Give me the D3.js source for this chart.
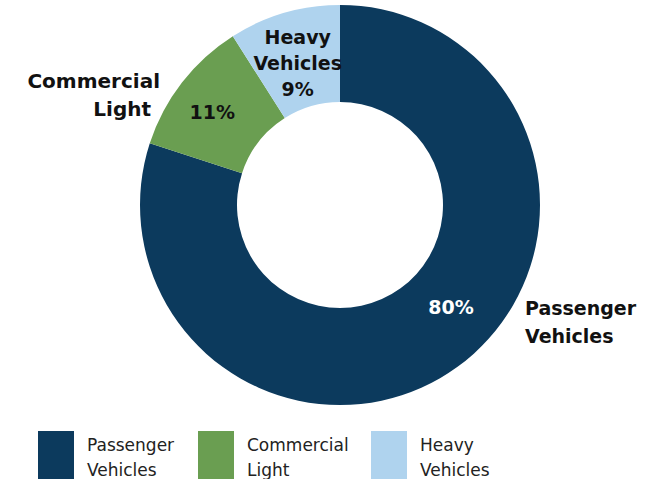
<!DOCTYPE html>
<html>
<head>
<meta charset="utf-8">
<script src="https://cdn.jsdelivr.net/npm/d3@7"></script>
<style>
  body { margin: 0; background: #fff; }
  text { font-family: "DejaVu Sans", sans-serif; }
</style>
</head>
<body>
<svg width="649" height="479"></svg>
<script>
var categories = ['Passenger Vehicles', 'Commercial Light', 'Heavy Vehicles'],
    shares     = [80, 11, 9],
    nameLines  = [['Passenger', 'Vehicles'], ['Commercial', 'Light'], ['Heavy', 'Vehicles']],
    colors     = ['#0c3a5d', '#6a9e51', '#afd3ee'];

var cx     = 340,
    cy     = 205,
    outerR = 200,
    innerR = 103,
    fs     = 19;

var svg = d3.select('svg');
var g = svg.append('g').attr('transform', 'translate(' + cx + ',' + cy + ')');

var pie = d3.pie().sort(null).value(function(d) { return d; });
var arc = d3.arc().innerRadius(innerR).outerRadius(outerR);
var arcs = pie(shares);

g.selectAll('path.slice')
  .data(arcs)
  .enter()
  .append('path')
  .attr('class', 'slice')
  .attr('d', arc)
  .attr('fill', function(d, i) { return colors[i]; });

// percent labels, nudged off the centroid like the original
var pctNudge = [[22, -20], [-8, 0]];
var pctColor = ['#fff', '#111'];

arcs.slice(0, 2).forEach(function(d, i) {
  var c = arc.centroid(d);
  g.append('text')
    .attr('x', c[0] + pctNudge[i][0])
    .attr('y', c[1] + pctNudge[i][1])
    .attr('dy', '0.35em')
    .attr('text-anchor', 'middle')
    .attr('font-size', fs)
    .attr('font-weight', 'bold')
    .attr('fill', pctColor[i])
    .text(shares[i] + '%');
});

// Heavy vehicles: name + value stacked inside the slice
var hv = arc.centroid(arcs[2]);
var hvText = g.append('text')
  .attr('text-anchor', 'middle')
  .attr('font-size', fs)
  .attr('font-weight', 'bold')
  .attr('fill', '#111');
nameLines[2].concat([shares[2] + '%']).forEach(function(s, k) {
  hvText.append('tspan')
    .attr('x', hv[0])
    .attr('y', hv[1] - 22 + k * 26)
    .attr('dy', '0.35em')
    .text(s);
});

// outside names
var outside = [
  { i: 0, x: 185, y: 103, anchor: 'start', shift: [0, 0] },
  { i: 1, x: -180, y: -124, anchor: 'end', shift: [0, -9] }
];
outside.forEach(function(o) {
  var t = g.append('text')
    .attr('text-anchor', o.anchor)
    .attr('font-size', o.i === 1 ? 20 : fs)
    .attr('font-weight', 'bold')
    .attr('fill', '#111');
  nameLines[o.i].forEach(function(s, k) {
    t.append('tspan')
      .attr('x', o.x + o.shift[k])
      .attr('y', o.y + k * 28)
      .attr('dy', '0.35em')
      .text(s);
  });
});

// legend
var legendX = d3.scaleOrdinal().domain(categories).range([38, 198, 371]);
var leg = svg.append('g').attr('transform', 'translate(0,431)');
var item = leg.selectAll('g.item')
  .data(categories)
  .enter()
  .append('g')
  .attr('class', 'item')
  .attr('transform', function(d) { return 'translate(' + legendX(d) + ',0)'; });

item.append('rect')
  .attr('width', 36)
  .attr('height', 48)
  .attr('fill', function(d, i) { return colors[i]; });

item.append('text')
  .attr('font-size', 17)
  .attr('fill', '#222')
  .each(function(d, i) {
    var t = d3.select(this);
    nameLines[i].forEach(function(s, k) {
      t.append('tspan')
        .attr('x', 49)
        .attr('y', 14 + k * 25)
        .attr('dy', '0.35em')
        .text(s);
    });
  });
</script>
</body>
</html>
